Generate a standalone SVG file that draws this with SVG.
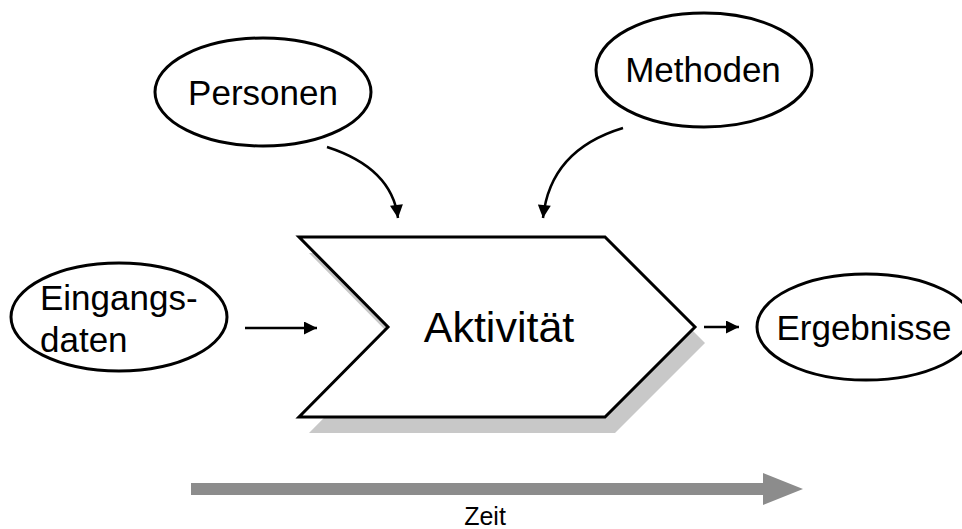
<svg xmlns="http://www.w3.org/2000/svg" width="962" height="529" viewBox="0 0 962 529">
  <defs>
    <marker id="ah" viewBox="0 0 10 10" refX="10" refY="5" markerUnits="userSpaceOnUse" markerWidth="17" markerHeight="13" orient="auto">
      <path d="M0,0 L10,5 L0,10 z" fill="#000"/>
    </marker>
    <style>
      .ell { fill: #fff; stroke: #000; stroke-width: 3; }
      .lbl { font-family: "Liberation Sans", Arial, sans-serif; font-size: 35px; fill: #000; }
      .con { fill: none; stroke: #000; stroke-width: 2.5; marker-end: url(#ah); }
    </style>
  </defs>
  <rect width="962" height="529" fill="#fff"/>

  <g id="aktivitaet">
    <polygon points="309,253 615,253 705,343 615,433 309,433 398,343" fill="#c8c8c8"/>
    <polygon points="299,237 605,237 695,327 605,417 299,417 388,327" fill="#fff" stroke="#000" stroke-width="3" stroke-linejoin="miter"/>
    <text x="499" y="342" text-anchor="middle" class="lbl" style="font-size:43px">Aktivität</text>
  </g>

  <g id="personen">
    <ellipse cx="263" cy="92" rx="108" ry="54" class="ell"/>
    <text x="263" y="105" text-anchor="middle" class="lbl">Personen</text>
  </g>

  <g id="methoden">
    <ellipse cx="704" cy="70" rx="108" ry="57" class="ell"/>
    <text x="703" y="82" text-anchor="middle" class="lbl">Methoden</text>
  </g>

  <g id="eingangsdaten">
    <ellipse cx="119" cy="317" rx="108" ry="54" class="ell"/>
    <text x="40" y="310" class="lbl">Eingangs-</text>
    <text x="40" y="352" class="lbl">daten</text>
  </g>

  <g id="ergebnisse">
    <ellipse cx="866" cy="327" rx="109" ry="53" class="ell"/>
    <text x="864" y="340" text-anchor="middle" class="lbl">Ergebnisse</text>
  </g>

  <g id="connectors">
    <path class="con" d="M327,147 Q392,168 398,218"/>
    <path class="con" d="M623,128 Q550,150 543,218"/>
    <path class="con" d="M245,328 L317,328"/>
    <path class="con" d="M704,327 L739,327"/>
  </g>

  <g id="zeit">
    <rect x="191" y="483" width="573" height="12" fill="#8c8c8c"/>
    <polygon points="763,473 803,489 763,505" fill="#8c8c8c"/>
    <text x="485" y="525" text-anchor="middle" class="lbl" style="font-size:25px">Zeit</text>
  </g>
</svg>
